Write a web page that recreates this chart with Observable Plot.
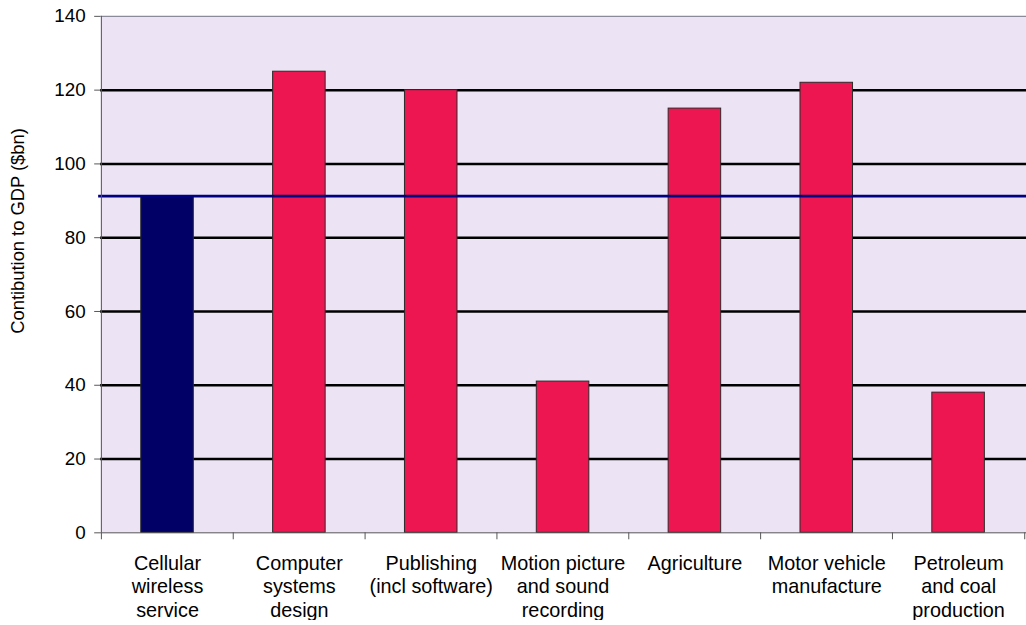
<!DOCTYPE html>
<html>
<head>
<meta charset="utf-8">
<script src="https://cdn.jsdelivr.net/npm/d3@7"></script>
<script src="https://cdn.jsdelivr.net/npm/@observablehq/plot@0.6"></script>
<style>
  html, body { margin: 0; padding: 0; background: #ffffff; overflow: hidden; }
  #chart svg { display: block; }
</style>
</head>
<body>
<div id="chart"></div>
<script>
// Industry categories (axis labels, line breaks as printed)
const categories = [
  "Cellular\nwireless\nservice",
  "Computer\nsystems\ndesign",
  "Publishing\n(incl software)",
  "Motion picture\nand sound\nrecording",
  "Agriculture",
  "Motor vehicle\nmanufacture",
  "Petroleum\nand coal\nproduction"
];
// Contribution to GDP, $bn
const values = [91.3, 125, 120, 41, 115, 122, 38];
// Reference level: the cellular wireless figure
const referenceLevel = [91.3];
const yTicks = [0, 20, 40, 60, 80, 100, 120, 140];
const gridLevels = [20, 40, 60, 80, 100, 120];

const data = categories.map((c, i) => ({category: c, value: values[i], highlight: i === 0}));

const W = 1035, H = 625;
const mL = 101, mR = 0, mT = 16, mB = 88;
const step = (W - mL - mR) / categories.length;
const font = "'Liberation Sans', Arial, sans-serif";

const chart = Plot.plot({
  width: W,
  height: H,
  marginLeft: mL,
  marginRight: mR,
  marginTop: mT,
  marginBottom: mB,
  style: {fontFamily: font, color: "#000", background: "#fff"},
  x: {domain: categories, paddingInner: 0.6, paddingOuter: 0.3},
  y: {domain: [0, 140]},
  marks: [
    Plot.frame({fill: "#ECE4F4", stroke: null}),
    Plot.ruleY(gridLevels, {stroke: "#000", strokeWidth: 2.5}),
    Plot.ruleY([140], {stroke: "#8a8a9a", strokeWidth: 1.2}),
    Plot.barY(data, {
      x: "category",
      y: "value",
      fill: d => d.highlight ? "#000066" : "#EE1651",
      stroke: "#2a2a2a",
      strokeWidth: 1
    }),
    Plot.ruleY(referenceLevel, {stroke: "#000080", strokeWidth: 2.8, insetLeft: -2}),
    // axis lines
    Plot.ruleX([categories[0]], {dx: -step / 2, stroke: "#555", strokeWidth: 1}),
    Plot.ruleY([0], {stroke: "#555", strokeWidth: 1}),
    // category boundary ticks below the baseline
    Plot.ruleX(categories, {dx: -step / 2, y1: 0, y2: 0, insetBottom: -7, stroke: "#555", strokeWidth: 1}),
    Plot.ruleX([categories[categories.length - 1]], {dx: step / 2, y1: 0, y2: 0, insetBottom: -7, stroke: "#555", strokeWidth: 1}),
    // y tick marks, with the labels drawn as text below
    Plot.axisY({
      ticks: yTicks,
      tickSize: 6,
      tickFormat: () => "",
      stroke: "#555",
      label: null
    }),
    Plot.text(yTicks, {
      y: d => d,
      text: d => String(d),
      frameAnchor: "left",
      dx: -15,
      textAnchor: "end",
      fontSize: 19,
      fill: "#000"
    }),
    Plot.axisX({
      tickSize: 0,
      tickPadding: 21,
      fontSize: 20,
      lineHeight: 1.17,
      label: null
    }),
    Plot.text(["Contibution to GDP ($bn)"], {
      frameAnchor: "left",
      rotate: -90,
      dx: -83,
      dy: -44,
      fontSize: 18.5,
      textAnchor: "middle",
      lineAnchor: "middle",
      fill: "#000"
    })
  ]
});

document.getElementById("chart").appendChild(chart);
</script>
</body>
</html>
